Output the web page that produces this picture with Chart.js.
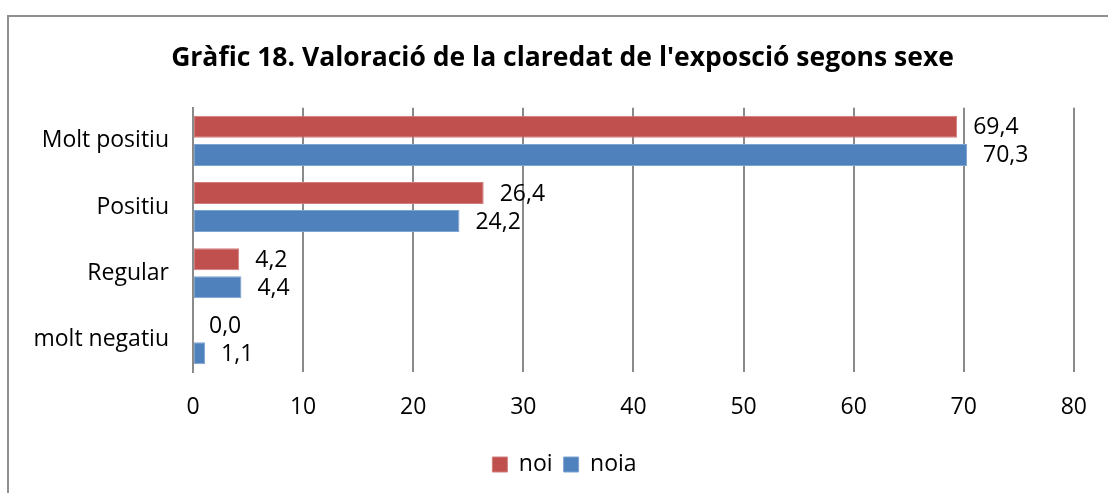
<!DOCTYPE html>
<html>
<head>
<meta charset="utf-8">
<script src="https://cdn.jsdelivr.net/npm/chart.js@4/dist/chart.umd.min.js"></script>
<style>
  html, body { margin: 0; padding: 0; background: #fff; }
  #wrap { position: relative; width: 1108px; height: 493px; overflow: hidden; }
  #frame { position: absolute; left: 7px; top: 15px; width: 1200px; height: 600px;
           border-left: 2px solid #8f8f8f; border-top: 2px solid #8f8f8f; pointer-events: none; }
  canvas { position: absolute; left: 0; top: 0; }
</style>
</head>
<body>
<div id="wrap">
  <canvas id="c" width="1108" height="493"></canvas>
  <div id="frame"></div>
</div>
<script>
const categories = ['Molt positiu', 'Positiu', 'Regular', 'molt negatiu'];
const noiValues = [69.4, 26.4, 4.2, 0.0];
const noiaValues = [70.3, 24.2, 4.4, 1.1];
const seriesNames = ['noi', 'noia'];
const xTicks = [0, 10, 20, 30, 40, 50, 60, 70, 80];
const titleText = "Gràfic 18. Valoració de la claredat de l'exposció segons sexe";

const FONT = '"Open Sans", sans-serif';
const FS = 23;

const valueLabels = {
  id: 'valueLabels',
  afterDatasetsDraw(chart) {
    const ctx = chart.ctx;
    ctx.save();
    ctx.font = FS + 'px ' + FONT;
    ctx.fillStyle = '#000';
    ctx.textAlign = 'left';
    ctx.textBaseline = 'middle';
    chart.data.datasets.forEach((ds, i) => {
      const meta = chart.getDatasetMeta(i);
      meta.data.forEach((el, j) => {
        const v = ds.data[j];
        ctx.fillText(v.toFixed(1).replace('.', ','), el.x + 16, el.y + 1);
      });
    });
    ctx.restore();
  }
};

const boxShift = {
  id: 'boxShift',
  afterLayout(chart) {
    if (chart.legend) {
      chart.legend.left += 23;
      chart.legend.right += 23;
    }
    if (chart.titleBlock) {
      chart.titleBlock.left += 21;
      chart.titleBlock.right += 21;
    }
  }
};

new Chart(document.getElementById('c'), {
  type: 'bar',
  data: {
    labels: categories,
    datasets: [
      { label: seriesNames[0], data: noiValues, backgroundColor: '#C0504D', borderColor: '#D07E7C', borderWidth: 1, borderSkipped: false },
      { label: seriesNames[1], data: noiaValues, backgroundColor: '#4F81BD', borderColor: '#7FA3D0', borderWidth: 1, borderSkipped: false }
    ]
  },
  options: {
    indexAxis: 'y',
    responsive: false,
    animation: false,
    devicePixelRatio: 1,
    datasets: { bar: { categoryPercentage: 0.848, barPercentage: 0.786 } },
    layout: { padding: { left: 8, right: 33, top: 0, bottom: 7 } },
    scales: {
      x: {
        min: 0, max: 80,
        afterBuildTicks(scale) { scale.ticks = xTicks.map(v => ({ value: v })); },
        grid: { color: '#8a8a8a', lineWidth: 2, drawTicks: false },
        border: { display: false },
        ticks: { color: '#000', font: { family: FONT, size: FS }, padding: 21 }
      },
      y: {
        afterFit(scale) { scale.width = 185; },
        grid: { display: false, drawTicks: false },
        border: { display: true, color: '#8a8a8a', width: 2 },
        ticks: { color: '#000', font: { family: FONT, size: FS }, padding: 24 }
      }
    },
    plugins: {
      title: {
        display: true,
        text: titleText,
        color: '#000',
        font: { family: FONT, size: 26.5, weight: 'bold' },
        padding: { top: 43, bottom: 33 }
      },
      legend: {
        position: 'bottom',
        labels: { color: '#000', font: { family: FONT, size: FS }, boxWidth: 15, boxHeight: 15, padding: 11 }
      },
      tooltip: { enabled: false }
    }
  },
  plugins: [valueLabels, boxShift]
});
</script>
</body>
</html>
